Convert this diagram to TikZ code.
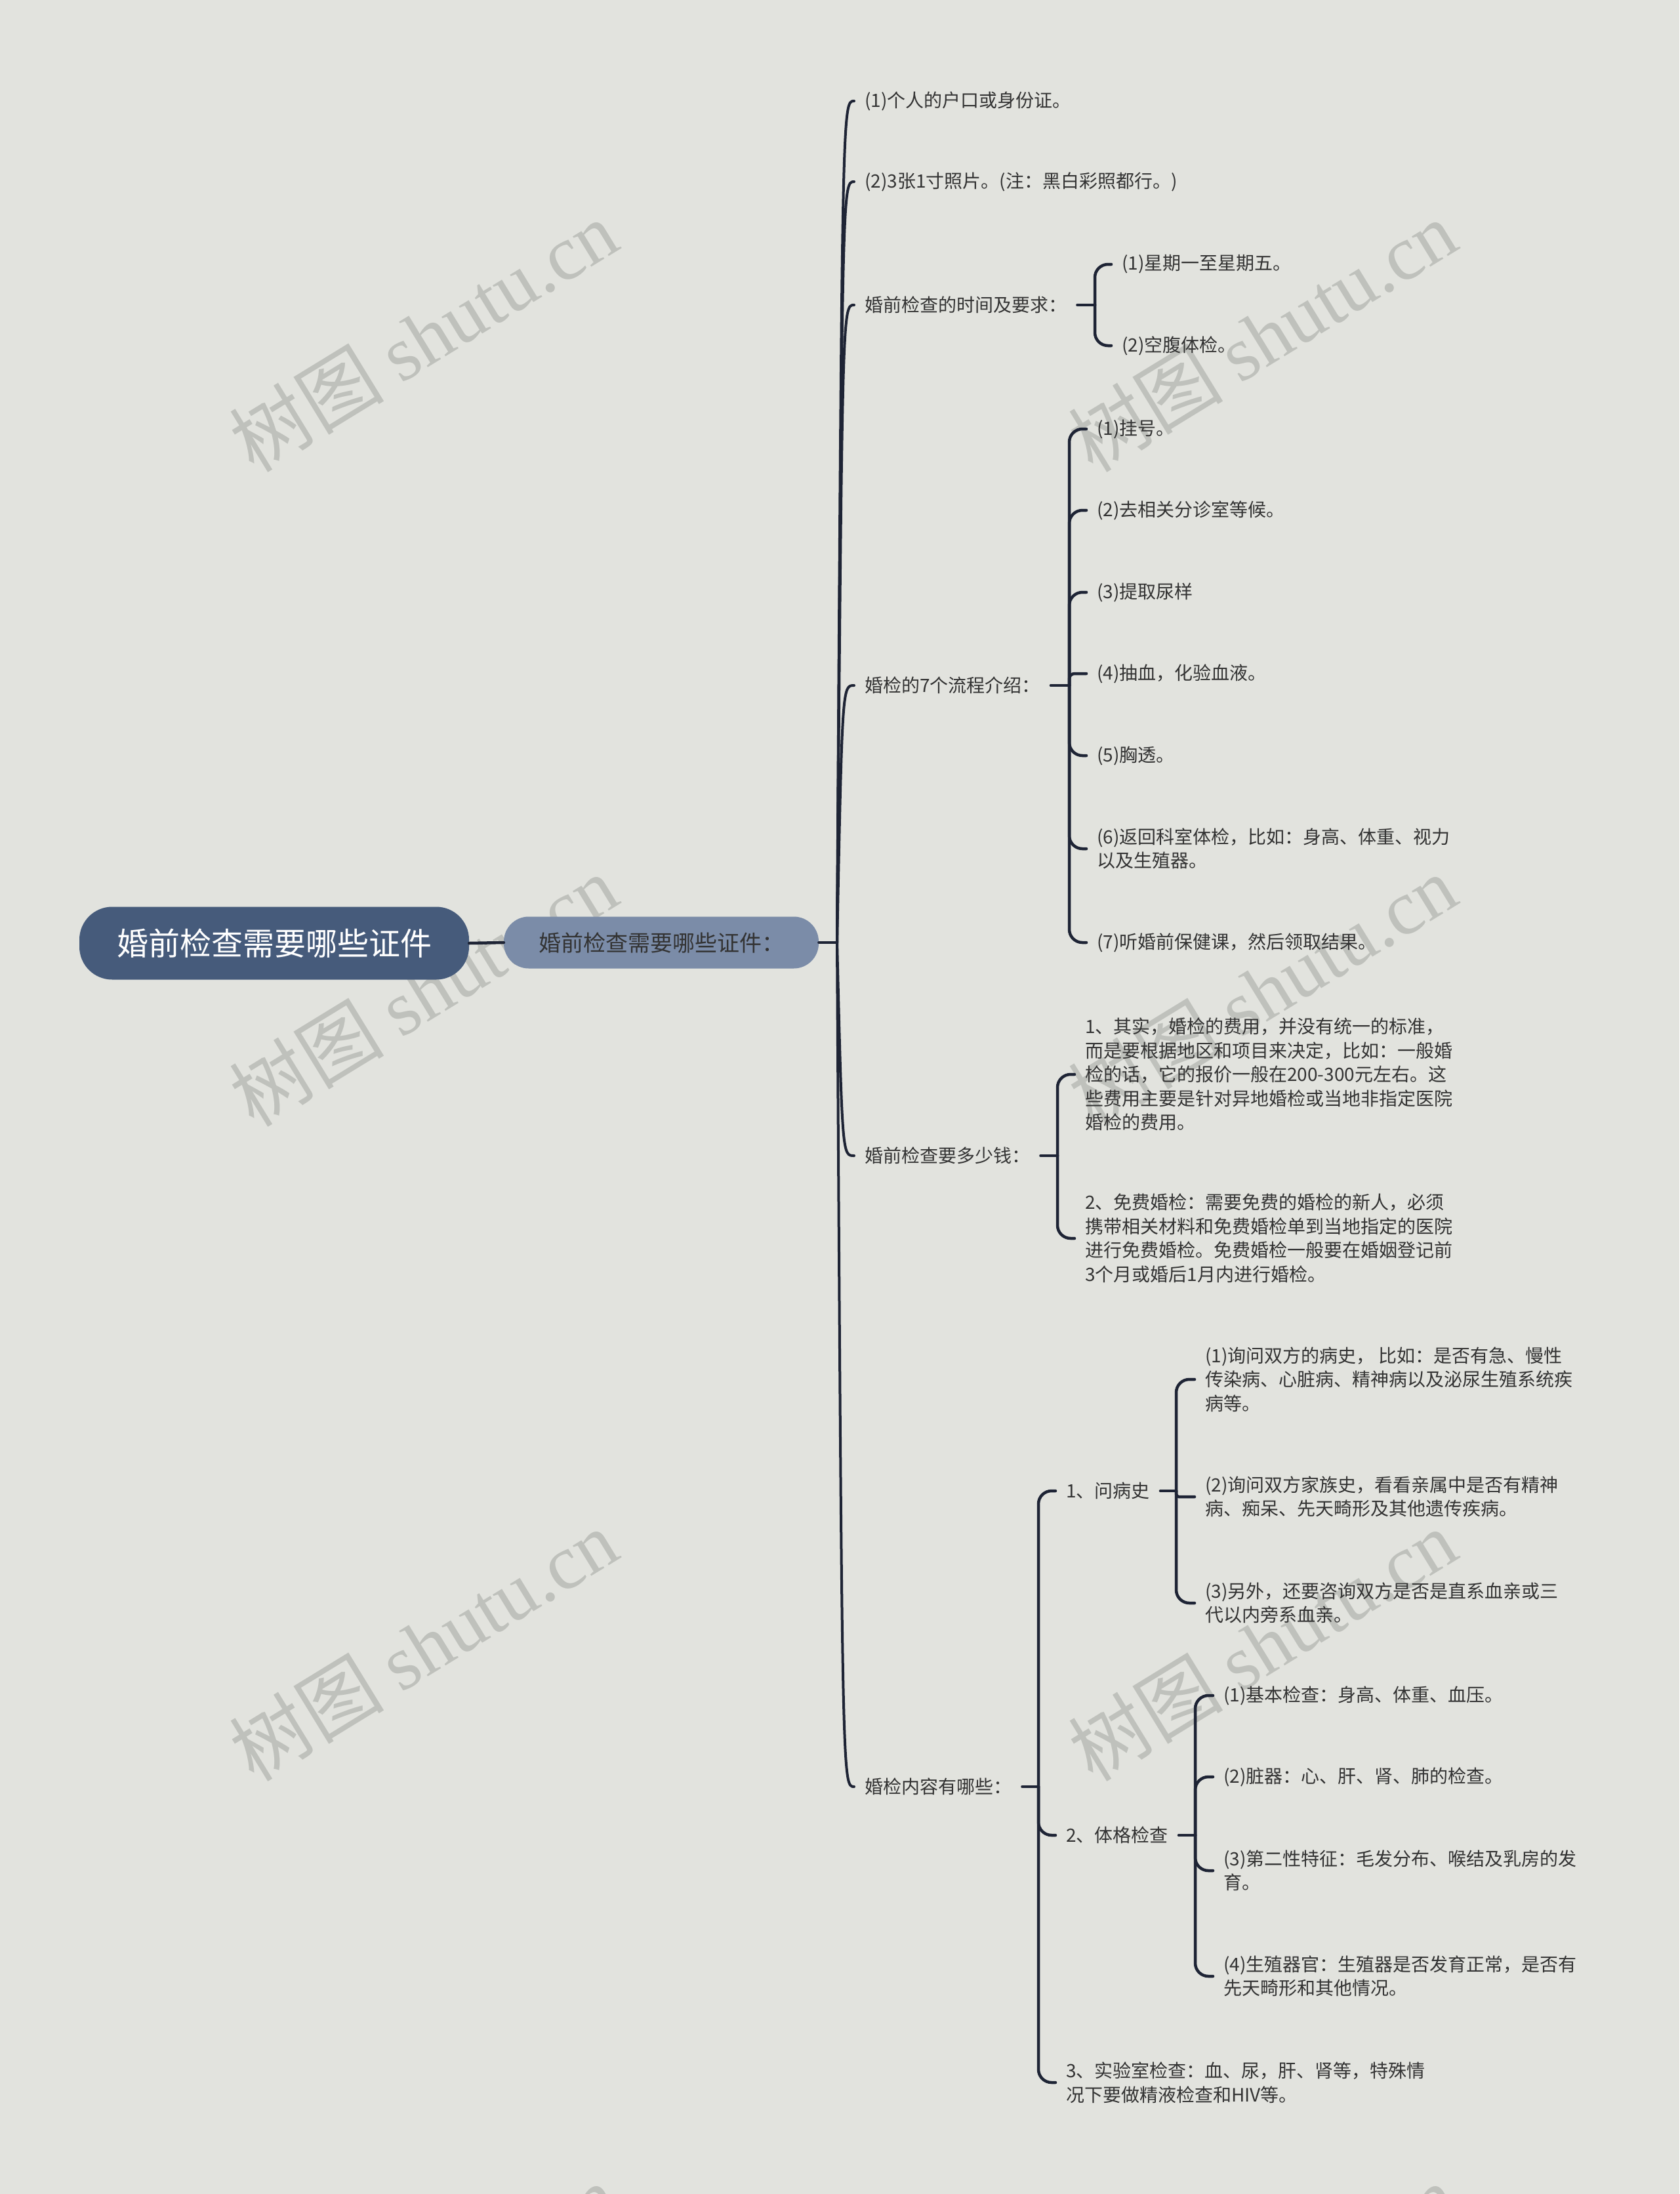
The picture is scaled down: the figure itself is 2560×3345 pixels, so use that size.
\documentclass[tikz,border=0pt]{standalone}
\usepackage{fontspec}
\setmainfont{Noto Sans CJK SC}
\newfontfamily\wmfont{Liberation Serif}
\usetikzlibrary{calc}
\definecolor{bg}{HTML}{E2E3DE}
\definecolor{rootc}{HTML}{465B7B}
\definecolor{secc}{HTML}{7B8CA8}
\definecolor{linec}{HTML}{1E2435}
\definecolor{txt}{HTML}{333333}
\definecolor{wm}{HTML}{BFC1BC}
\begin{document}
\begin{tikzpicture}[x=1pt,y=-1pt,
  leaf/.style={anchor=west, inner xsep=16pt, inner ysep=2pt, align=left, text=txt, font=\fontsize{28}{36.5}\selectfont},
  conn/.style={draw=linec, line width=4pt, line cap=round},
  brk/.style={draw=linec, line width=4.5pt, line cap=round, rounded corners=20pt},
  wmark/.style={text=wm, rotate=31.5, inner sep=0pt, font=\fontsize{118}{118}\selectfont}]
\useasboundingbox (0,0) rectangle (2560,3345);
\clip (0,0) rectangle (2560,3345);
\fill[bg] (0,0) rectangle (2560,3345);
% watermarks
\foreach \wx/\wy [count=\i] in {645/512,1924/512,645/1510,1924/1510,645/2508,1924/2508,645/3506,1924/3506}
  \node[wmark] (wm\i) at (\wx,\wy) {树图 {\wmfont shutu.cn}};
% root and main
\node[fill=rootc, rounded corners=50pt, minimum width=594pt, minimum height=111pt, inner sep=0pt, text=white, font=\fontsize{48}{48}\selectfont] (root) at (418,1438) {婚前检查需要哪些证件};
\node[fill=secc, rounded corners=38pt, minimum width=480pt, minimum height=79pt, inner sep=0pt, text=txt, font=\fontsize{34}{34}\selectfont] (sec) at (1008,1437) {婚前检查需要哪些证件：};
\draw[conn, line width=4.5pt] (root.east) -- (sec.west);
\coordinate (P) at (1276,1437);
\draw[conn] (sec.east) -- (P);
% level 1
\node[leaf] (a1) at (1302,154) {(1)个人的户口或身份证。};
\node[leaf] (a2) at (1302,277) {(2)3张1寸照片。(注：黑白彩照都行。)};
\node[leaf] (a3) at (1302,465) {婚前检查的时间及要求：};
\node[leaf] (a4) at (1302,1045) {婚检的7个流程介绍：};
\node[leaf] (a5) at (1302,1762) {婚前检查要多少钱：};
\node[leaf] (a6) at (1302,2724) {婚检内容有哪些：};
\foreach \n in {a1,a2,a3,a4,a5,a6}
  \draw[conn] (P) .. controls ($(P |- \n.west)+(8,0)$) .. (\n.west);
% a3 children
\coordinate (a3b) at (1669,465);
\draw[conn, line width=4.5pt] (a3.east) -- (a3b);
\node[leaf] (b31) at (1694,403) {(1)星期一至星期五。};
\node[leaf] (b32) at (1694,527) {(2)空腹体检。};
\foreach \n in {b31,b32} \draw[brk] (a3b) |- (\n.west);
% a4 children
\coordinate (a4b) at (1630,1045);
\draw[conn, line width=4.5pt] (a4.east) -- (a4b);
\node[leaf] (b41) at (1656,654) {(1)挂号。};
\node[leaf] (b42) at (1656,778) {(2)去相关分诊室等候。};
\node[leaf] (b43) at (1656,903) {(3)提取尿样};
\node[leaf] (b44) at (1656,1027) {(4)抽血，化验血液。};
\node[leaf] (b45) at (1656,1152) {(5)胸透。};
\node[leaf] (b46) at (1656,1294) {(6)返回科室体检，比如：身高、体重、视力\\以及生殖器。};
\node[leaf] (b47) at (1656,1437) {(7)听婚前保健课，然后领取结果。};
\foreach \n in {b41,b42,b43,b45,b46,b47} \draw[brk] (a4b) |- (\n.west);
\draw[brk, rounded corners=8pt] (a4b) |- (b44.west);
% a5 children
\coordinate (a5b) at (1612,1762);
\draw[conn, line width=4.5pt] (a5.east) -- (a5b);
\node[leaf] (b51) at (1638,1638) {1、其实，婚检的费用，并没有统一的标准，\\而是要根据地区和项目来决定，比如：一般婚\\检的话，它的报价一般在200-300元左右。这\\些费用主要是针对异地婚检或当地非指定医院\\婚检的费用。};
\node[leaf] (b52) at (1638,1888) {2、免费婚检：需要免费的婚检的新人，必须\\携带相关材料和免费婚检单到当地指定的医院\\进行免费婚检。免费婚检一般要在婚姻登记前\\3个月或婚后1月内进行婚检。};
\foreach \n in {b51,b52} \draw[brk] (a5b) |- (\n.west);
% a6 children
\coordinate (a6b) at (1583,2724);
\draw[conn, line width=4.5pt] (a6.east) -- (a6b);
\node[leaf] (c1) at (1609,2273) {1、问病史};
\node[leaf] (c2) at (1609,2798) {2、体格检查};
\node[leaf] (c3) at (1609,3175) {3、实验室检查：血、尿，肝、肾等，特殊情\\况下要做精液检查和HIV等。};
\foreach \n in {c1,c2,c3} \draw[brk] (a6b) |- (\n.west);
% c1 children
\coordinate (c1b) at (1793,2273);
\draw[conn, line width=4.5pt] (c1.east) -- (c1b);
\node[leaf] (d11) at (1821,2103) {(1)询问双方的病史， 比如：是否有急、慢性\\传染病、心脏病、精神病以及泌尿生殖系统疾\\病等。};
\node[leaf] (d12) at (1821,2282) {(2)询问双方家族史，看看亲属中是否有精神\\病、痴呆、先天畸形及其他遗传疾病。};
\node[leaf] (d13) at (1821,2444) {(3)另外，还要咨询双方是否是直系血亲或三\\代以内旁系血亲。};
\foreach \n in {d11,d13} \draw[brk] (c1b) |- (\n.west);
\draw[brk, rounded corners=4pt] (c1b) |- (d12.west);
% c2 children
\coordinate (c2b) at (1822,2798);
\draw[conn, line width=4.5pt] (c2.east) -- (c2b);
\node[leaf] (d21) at (1849,2585) {(1)基本检查：身高、体重、血压。};
\node[leaf] (d22) at (1849,2709) {(2)脏器：心、肝、肾、肺的检查。};
\node[leaf] (d23) at (1849,2852) {(3)第二性特征：毛发分布、喉结及乳房的发\\育。};
\node[leaf] (d24) at (1849,3013) {(4)生殖器官：生殖器是否发育正常，是否有\\先天畸形和其他情况。};
\foreach \n in {d21,d22,d23,d24} \draw[brk] (c2b) |- (\n.west);
\end{tikzpicture}
\end{document}
